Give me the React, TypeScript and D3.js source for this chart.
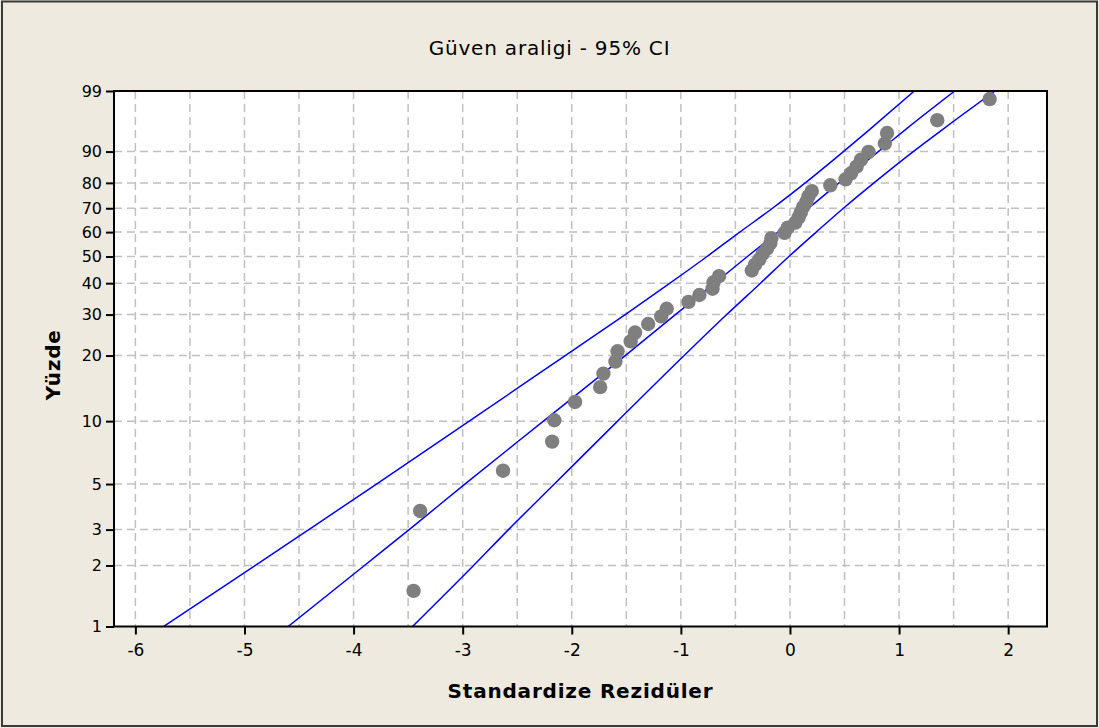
import React, { useEffect, useRef } from "react";
import * as d3 from "d3";

const xTicks = [-6, -5, -4, -3, -2, -1, 0, 1, 2];
const yTicks = [1, 2, 3, 5, 10, 20, 30, 40, 50, 60, 70, 80, 90, 99];

// standardized residuals, sorted, with their plotted percentages
const residuals = [
  -3.45, -3.39, -2.63, -2.18, -2.16, -1.97, -1.74, -1.71, -1.6, -1.58,
  -1.46, -1.42, -1.3, -1.18, -1.13, -0.93, -0.83, -0.71, -0.7, -0.65,
  -0.35, -0.32, -0.28, -0.25, -0.21, -0.18, -0.17, -0.05, -0.02, 0.05,
  0.08, 0.1, 0.12, 0.15, 0.17, 0.2, 0.37, 0.51, 0.56, 0.61,
  0.65, 0.72, 0.87, 0.89, 1.35, 1.83,
];
const percents = [
  1.5, 3.7, 5.8, 8.0, 10.1, 12.3, 14.4, 16.6, 18.8, 20.9,
  23.1, 25.2, 27.4, 29.5, 31.7, 33.8, 36.0, 38.1, 40.3, 42.5,
  44.6, 46.8, 48.9, 51.1, 53.2, 55.4, 57.5, 59.7, 61.9, 64.0,
  66.2, 68.3, 70.5, 72.6, 74.8, 76.9, 79.1, 81.3, 83.4, 85.6,
  87.7, 89.9, 92.0, 94.2, 96.3, 98.5,
];

// fitted line and 95% CI bands, read at these percentages
const bandPercents = [1, 2, 3, 5, 10, 20, 30, 40, 50, 60, 70, 80, 90, 95, 99];
const ciLeft = [-5.74, -4.9, -4.41, -3.79, -2.94, -2.06, -1.51, -1.1, -0.76, -0.46, -0.16, 0.14, 0.49, 0.74, 1.14];
const fitLine = [-4.6, -3.9, -3.49, -2.98, -2.26, -1.51, -1.05, -0.69, -0.39, -0.11, 0.17, 0.45, 0.81, 1.07, 1.51];
const ciRight = [-3.46, -2.9, -2.58, -2.16, -1.58, -0.97, -0.58, -0.27, -0.01, 0.24, 0.49, 0.77, 1.13, 1.41, 1.88];

const FONT = "'DejaVu Sans', Verdana, sans-serif";

// smallest extreme value probability transform
const sev = (p: number) => Math.log(-Math.log(1 - p / 100));

function ProbabilityPlot() {
  const ref = useRef<SVGSVGElement>(null);

  useEffect(() => {
    const width = 1099;
    const height = 728;
    const left = 114, right = 1047, top = 91, bottom = 626.5;

    const svg = d3.select(ref.current);
    svg.selectAll("*").remove();

    svg.append("rect")
      .attr("x", 0).attr("y", 0)
      .attr("width", width).attr("height", height)
      .attr("fill", "#eeeae0");
    svg.append("rect")
      .attr("x", 2).attr("y", 1.5)
      .attr("width", width - 4).attr("height", height - 3.5)
      .attr("fill", "none")
      .attr("stroke", "#3a3a3a")
      .attr("stroke-width", 2);

    const x = d3.scaleLinear().domain([-6.196, 2.356]).range([left, right]);
    const yw = d3.scaleLinear().domain([sev(1), sev(99)]).range([bottom, top]);
    const y = (p: number) => yw(sev(p));

    svg.append("rect")
      .attr("x", left).attr("y", top)
      .attr("width", right - left).attr("height", bottom - top)
      .attr("fill", "white");

    // grid
    const grid = svg.append("g")
      .attr("stroke", "#c0c0c0")
      .attr("stroke-width", 1.5)
      .attr("stroke-dasharray", "8,5");
    grid.selectAll("line.v")
      .data(d3.range(-6, 2.01, 0.5))
      .enter()
      .append("line")
      .attr("x1", (d) => x(d)).attr("x2", (d) => x(d))
      .attr("y1", top).attr("y2", bottom);
    grid.selectAll("line.h")
      .data(yTicks.filter((d) => d > 1 && d < 99))
      .enter()
      .append("line")
      .attr("x1", left).attr("x2", right)
      .attr("y1", (d) => y(d)).attr("y2", (d) => y(d));

    // fitted line + CI
    const clipId = "plot-clip";
    svg.append("clipPath").attr("id", clipId)
      .append("rect")
      .attr("x", left).attr("y", top)
      .attr("width", right - left).attr("height", bottom - top);

    const line = d3.line<number>()
      .x((d) => x(d))
      .y((_, i) => y(bandPercents[i]))
      .curve(d3.curveMonotoneY);

    svg.append("g")
      .attr("clip-path", `url(#${clipId})`)
      .selectAll("path")
      .data([ciLeft, fitLine, ciRight])
      .enter()
      .append("path")
      .attr("d", (d) => line(d))
      .attr("fill", "none")
      .attr("stroke", "#0000ff")
      .attr("stroke-width", 1.5);

    // points
    svg.append("g")
      .selectAll("circle")
      .data(residuals)
      .enter()
      .append("circle")
      .attr("cx", (d) => x(d))
      .attr("cy", (_, i) => y(percents[i]))
      .attr("r", 7.2)
      .attr("fill", "#7f7f7f");

    // frame
    svg.append("rect")
      .attr("x", left).attr("y", top)
      .attr("width", right - left).attr("height", bottom - top)
      .attr("fill", "none")
      .attr("stroke", "black")
      .attr("stroke-width", 2);

    // axes
    const xAxis = svg.append("g")
      .attr("transform", `translate(0,${bottom})`)
      .call(d3.axisBottom(x).tickValues(xTicks).tickSize(8).tickPadding(9).tickFormat(d3.format("d")));
    xAxis.select(".domain").remove();
    xAxis.selectAll("line").attr("stroke", "black").attr("stroke-width", 2);
    xAxis.selectAll("text")
      .attr("font-family", FONT).attr("font-size", 17).attr("fill", "black")
      .text((d: any) => String(d).replace("−", "-"));

    const yAxis = svg.append("g")
      .attr("transform", `translate(${left},0)`)
      .call(
        d3.axisLeft(yw)
          .tickValues(yTicks.map(sev))
          .tickFormat((_, i) => String(yTicks[i]))
          .tickSize(8)
          .tickPadding(4)
      );
    yAxis.select(".domain").remove();
    yAxis.selectAll("line").attr("stroke", "black").attr("stroke-width", 2);
    yAxis.selectAll("text")
      .attr("font-family", FONT).attr("font-size", 16).attr("fill", "black");

    // titles
    svg.append("text")
      .attr("x", width / 2).attr("y", 55)
      .attr("text-anchor", "middle")
      .attr("font-family", FONT).attr("font-size", 20)
      .attr("letter-spacing", 0.8)
      .text("Güven araligi - 95% CI");

    svg.append("text")
      .attr("x", (left + right) / 2).attr("y", 698)
      .attr("text-anchor", "middle")
      .attr("font-family", FONT).attr("font-size", 20).attr("font-weight", "bold")
      .attr("letter-spacing", 0.8)
      .text("Standardize Rezidüler");

    svg.append("text")
      .attr("transform", `translate(60,${(top + bottom) / 2 + 6}) rotate(-90)`)
      .attr("text-anchor", "middle")
      .attr("font-family", FONT).attr("font-size", 20).attr("font-weight", "bold")
      .attr("letter-spacing", 0.8)
      .text("Yüzde");
  }, []);

  return (
    <svg
      ref={ref}
      width={1099}
      height={728}
      style={{ position: "absolute", left: 0, top: 0, display: "block" }}
    />
  );
}

export default function App() {
  return <ProbabilityPlot />;
}
